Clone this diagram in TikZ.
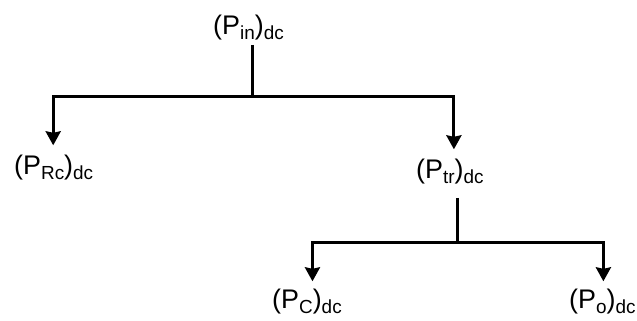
\documentclass[tikz,border=0pt]{standalone}
\usepackage{fontspec}
\setmainfont{Liberation Sans}
\usetikzlibrary{arrows.meta}
\newcommand\lowsub[1]{\raisebox{-5bp}{\fontsize{19}{19}\selectfont #1}}
\newcommand\plabel[1]{(P\lowsub{#1})\lowsub{dc}}
\begin{document}
\begin{tikzpicture}[x=1bp,y=-1bp,
  lbl/.style={anchor=base west, inner sep=1bp, font=\fontsize{27}{30}\selectfont},
  conn/.style={line width=3bp},
  arr/.style={conn,-{Stealth[inset=1.5bp,width=15bp,length=14bp]}},
  upper/.style={arr, shorten >=8bp},
  lower/.style={arr, shorten >=6bp}]
\useasboundingbox (0,0) rectangle (637,320);
\fill[white] (0,0) rectangle (637,320);
\node[lbl] (in) at (212,34) {\plabel{in}};
\node[lbl] (rc) at (13,174) {\plabel{Rc}};
\node[lbl] (tr) at (415,178) {\plabel{tr}};
\node[lbl] (pc) at (271,308) {\plabel{C}};
\node[lbl] (po) at (568,308) {\plabel{o}};
\coordinate (j1) at (252,96);
\coordinate (j2) at (457,242);
\draw[conn] ([yshift=-4bp]in.south -| j1) -- (j1);
\draw[upper] (j1) -| ([xshift=-0.5bp]rc.north);
\draw[upper] (j1) -| ([xshift=4bp]tr.north);
\draw[conn] ([yshift=-13bp]tr.south -| j2) -- (j2);
\draw[lower] (j2) -| ([xshift=5.5bp]pc.north);
\draw[lower] (j2) -| ([xshift=1bp]po.north);
\end{tikzpicture}
\end{document}
